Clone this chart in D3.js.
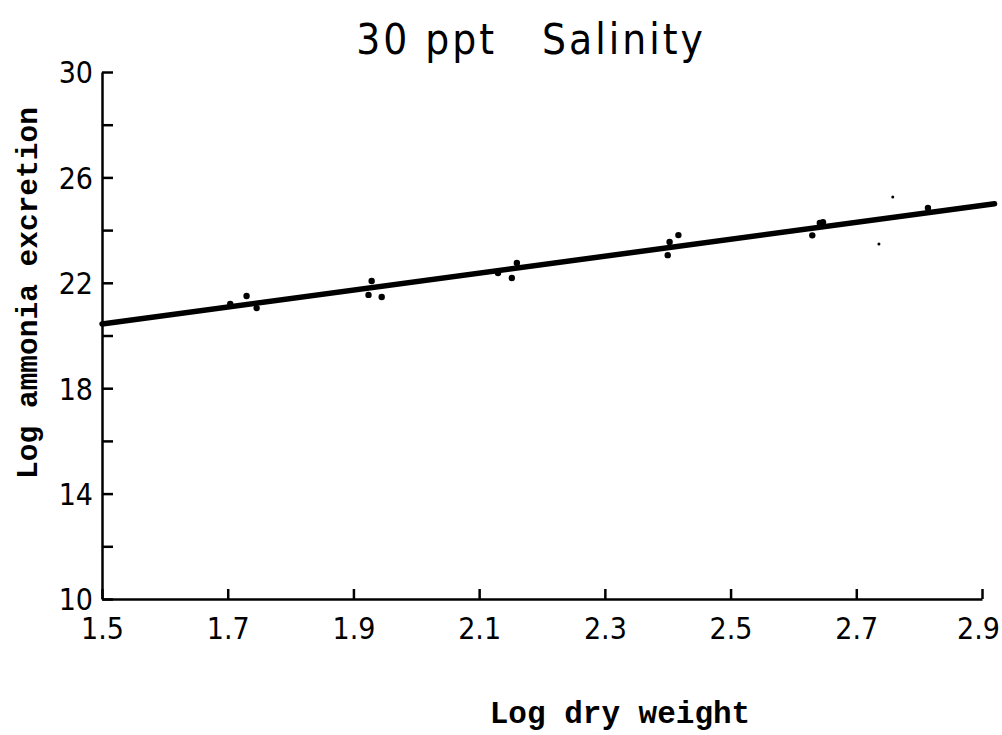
<!DOCTYPE html>
<html>
<head>
<meta charset="utf-8">
<script src="https://cdn.jsdelivr.net/npm/d3@7"></script>
<style>
  body { margin: 0; background: #fff; }
  svg { display: block; }
</style>
</head>
<body>
<script>
// values
const xTicks = [1.5, 1.7, 1.9, 2.1, 2.3, 2.5, 2.7, 2.9];
const yMajor = [10, 14, 18, 22, 26, 30];
const yMinor = [12, 16, 20, 24, 28];

// measured points (log dry weight, log ammonia excretion)
const ptX = [1.704, 1.73, 1.746, 1.924, 1.929, 1.945, 2.13, 2.152, 2.16,
             2.40, 2.403, 2.417, 2.63, 2.642, 2.647, 2.814];
const ptY = [21.2, 21.5, 21.04, 21.54, 22.07, 21.46, 22.37, 22.18, 22.75,
             23.05, 23.55, 23.81, 23.8, 24.27, 24.3, 24.84];

// loose specks off the line
const speckX = [2.758, 2.736];
const speckY = [25.26, 23.47];

// fitted line ends
const fitX = [1.5, 2.92];
const fitY = [20.44, 25.0];

const width = 1002, height = 735;
const plotLeft = 102, plotRight = 982, plotTop = 72, plotBottom = 599;

const svg = d3.select('body').append('svg')
  .attr('width', width)
  .attr('height', height);

svg.append('rect').attr('width', width).attr('height', height).attr('fill', '#fff');

const x = d3.scaleLinear().domain([1.5, 2.9]).range([plotLeft, plotRight]);
const y = d3.scaleLinear().domain([10, 30]).range([plotBottom, plotTop]);

const numFont = '"DejaVu Sans Condensed", "Liberation Sans Narrow", sans-serif';
const monoFont = '"Liberation Mono", "DejaVu Sans Mono", monospace';

// x axis, ticks pointing up into the plot
const xAxis = svg.append('g')
  .attr('transform', `translate(0,${plotBottom})`)
  .call(d3.axisBottom(x).tickValues(xTicks).tickSizeInner(-10).tickSizeOuter(0)
    .tickPadding(19).tickFormat(d3.format('.1f')));

// y axis, major + minor ticks pointing right
const yAxis = svg.append('g')
  .attr('transform', `translate(${plotLeft},0)`)
  .call(d3.axisLeft(y).tickValues(yMajor.concat(yMinor)).tickSizeInner(-11).tickSizeOuter(0)
    .tickPadding(9).tickFormat(d => yMajor.includes(d) ? d : ''));

[xAxis, yAxis].forEach(g => {
  g.select('.domain').attr('stroke', '#000').attr('stroke-width', 2.5);
  g.selectAll('.tick line').attr('stroke', '#000').attr('stroke-width', 2.5);
  g.selectAll('.tick text')
    .attr('fill', '#000')
    .style('font-family', numFont)
    .style('font-size', '30px');
});
yAxis.selectAll('.tick text').attr('dy', '0.36em');
// last label sits a little left of its tick, as in the scan
xAxis.selectAll('.tick text').filter(d => d === 2.9).attr('dx', -4);

// regression line
const line = d3.line().x(d => x(d[0])).y(d => y(d[1]));
svg.append('path')
  .datum(d3.zip(fitX, fitY))
  .attr('d', line)
  .attr('fill', 'none')
  .attr('stroke', '#000')
  .attr('stroke-width', 5.5)
  .attr('stroke-linecap', 'round');

// points
svg.selectAll('.pt')
  .data(d3.zip(ptX, ptY))
  .enter()
  .append('circle')
  .attr('class', 'pt')
  .attr('cx', d => x(d[0]))
  .attr('cy', d => y(d[1]))
  .attr('r', 3.2)
  .attr('fill', '#000');

svg.selectAll('.speck')
  .data(d3.zip(speckX, speckY))
  .enter()
  .append('circle')
  .attr('class', 'speck')
  .attr('cx', d => x(d[0]))
  .attr('cy', d => y(d[1]))
  .attr('r', 1.5)
  .attr('fill', '#000');

// title
svg.append('text')
  .attr('x', 531)
  .attr('y', 54)
  .attr('text-anchor', 'middle')
  .style('font-family', numFont)
  .style('font-size', '42px')
  .style('letter-spacing', '3px')
  .style('white-space', 'pre')
  .text('30 ppt   Salinity');

// axis titles
svg.append('text')
  .attr('x', 620)
  .attr('y', 723)
  .attr('text-anchor', 'middle')
  .style('font-family', monoFont)
  .style('font-weight', 'bold')
  .style('font-size', '31px')
  .text('Log dry weight');

svg.append('text')
  .attr('transform', 'translate(37,293) rotate(-90)')
  .attr('text-anchor', 'middle')
  .style('font-family', monoFont)
  .style('font-weight', 'bold')
  .style('font-size', '29.5px')
  .text('Log ammonia excretion');
</script>
</body>
</html>
